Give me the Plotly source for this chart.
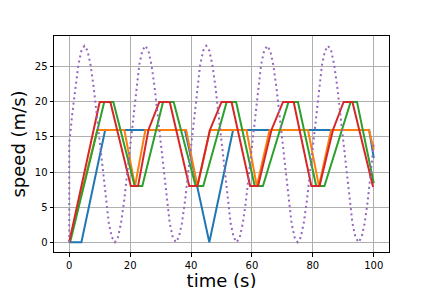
import plotly.graph_objects as go

# ---- data ----
blue_t = [0, 4, 11.8, 38, 46, 53.8, 98.5, 100]
blue_v = [0, 0, 16, 16, 0, 16, 16, 12]

orange_t = [0, 9.2, 18.1, 21.6, 25, 38.4, 42.1, 46.2, 58.2, 61.6, 65.8, 78.4, 82, 86, 98.4, 100]
orange_v = [0, 16, 16, 8, 16, 16, 8, 16, 16, 8, 16, 16, 8, 16, 16, 13.2]

green_t = [0.3, 11.5, 14.5, 21.5, 24.0, 30.8, 34.3, 41.5, 44.0, 51.7, 54.8, 60.9, 63.6, 72.0, 75.1, 81.1, 83.8, 92.4, 94.5, 100]
green_v = [0, 20, 20, 8, 8, 20, 20, 8, 8, 20, 20, 8, 8, 20, 20, 8, 8, 20, 20, 8.4]

red_t = [0, 10, 13.5, 20.2, 22.6, 26.0, 29.6, 33.0, 39.4, 42.1, 46.2, 50.0, 53.3, 59.4, 62.0, 66.4, 70.2, 73.7, 79.5, 82.2, 86.6, 90.1, 93.0, 99.7, 100]
red_v = [0, 20, 20, 8, 8, 16, 20, 20, 8, 8, 16, 20, 20, 8, 8, 16, 20, 20, 8, 8, 16, 20, 20, 8, 8]

purple_t = [0] + list(range(0, 101))
purple_v = [0,
            14.0, 18.3, 22.2, 25.3, 27.3, 28.0, 27.3, 25.3, 22.2, 18.3, 14.0, 9.7, 5.8, 2.7, 0.7, 0.0, 0.7, 2.7, 5.8, 9.7,
            14.0, 18.3, 22.2, 25.3, 27.3, 28.0, 27.3, 25.3, 22.2, 18.3, 14.0, 9.7, 5.8, 2.7, 0.7, 0.0, 0.7, 2.7, 5.8, 9.7,
            14.0, 18.3, 22.2, 25.3, 27.3, 28.0, 27.3, 25.3, 22.2, 18.3, 14.0, 9.7, 5.8, 2.7, 0.7, 0.0, 0.7, 2.7, 5.8, 9.7,
            14.0, 18.3, 22.2, 25.3, 27.3, 28.0, 27.3, 25.3, 22.2, 18.3, 14.0, 9.7, 5.8, 2.7, 0.7, 0.0, 0.7, 2.7, 5.8, 9.7,
            14.0, 18.3, 22.2, 25.3, 27.3, 28.0, 27.3, 25.3, 22.2, 18.3, 14.0, 9.7, 5.8, 2.7, 0.7, 0.0, 0.7, 2.7, 5.8, 9.7,
            14.0]

x_ticks = [0, 20, 40, 60, 80, 100]
y_ticks = [0, 5, 10, 15, 20, 25]

# ---- figure ----
FONT = "DejaVu Sans"
fig = go.Figure()
series = [
    (blue_t, blue_v, "#1f77b4", "solid"),
    (orange_t, orange_v, "#ff7f0e", "solid"),
    (green_t, green_v, "#2ca02c", "solid"),
    (red_t, red_v, "#d62728", "solid"),
    (purple_t, purple_v, "#9467bd", "2px,3.3px"),
]
for t, v, c, d in series:
    fig.add_trace(go.Scatter(x=t, y=v, mode="lines",
                             line=dict(color=c, width=2, dash=d),
                             showlegend=False, hoverinfo="skip"))

axis_common = dict(
    showgrid=True, gridcolor="#b0b0b0", gridwidth=0.8,
    zeroline=False, showline=True, mirror=True,
    linecolor="black", linewidth=1,
    ticks="outside", ticklen=3.5, tickwidth=0.8, tickcolor="black",
    tickfont=dict(family=FONT, size=10, color="black"),
)

# the page body adds an 8px offset, so margins are shifted to compensate
fig.update_layout(
    width=432, height=288,
    margin=dict(l=46, r=51, t=28, b=44, autoexpand=False),
    paper_bgcolor="white", plot_bgcolor="white",
    font=dict(family=FONT, color="black"),
    xaxis=dict(range=[-5, 105], tickvals=x_ticks,
               title=dict(text="time (s)", font=dict(family=FONT, size=18, color="black"), standoff=4),
               **axis_common),
    yaxis=dict(range=[-1.4, 29.4], tickvals=y_ticks,
               title=dict(text="speed (m/s)", font=dict(family=FONT, size=18, color="black"), standoff=4),
               **axis_common),
)

fig.write_html("out.html")
